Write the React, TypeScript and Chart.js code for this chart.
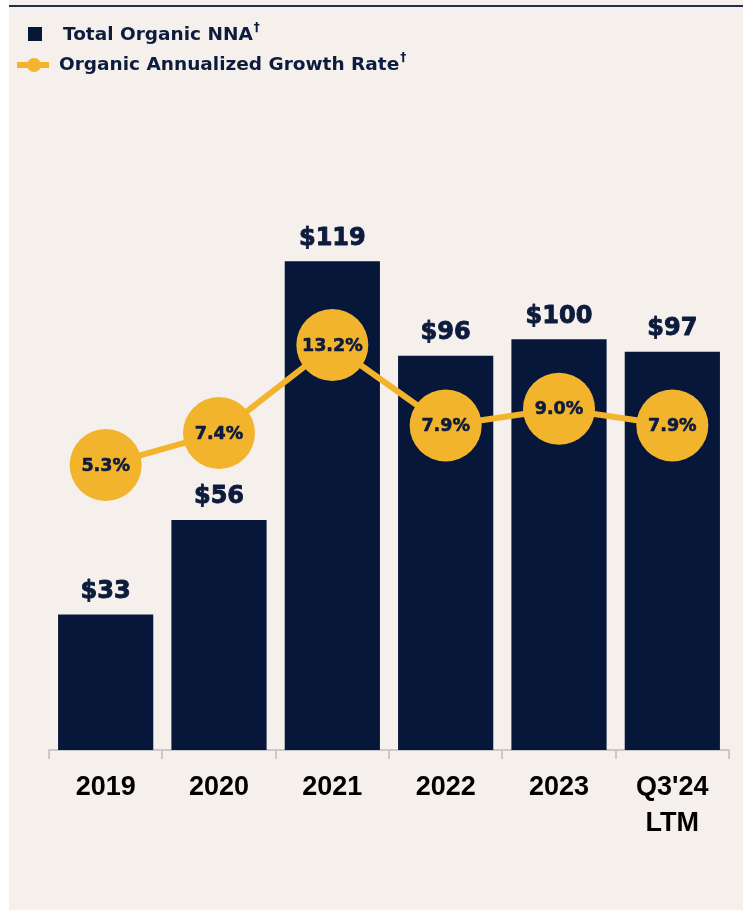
import React, { useEffect, useRef } from "react";
import { Chart, registerables } from "chart.js";

Chart.register(...registerables);

const categories: (string | string[])[] = ["2019", "2020", "2021", "2022", "2023", ["Q3'24", "LTM"]];
const nnaValues = [33, 56, 119, 96, 100, 97];
const growthRates = [5.3, 7.4, 13.2, 7.9, 9.0, 7.9];
const legendLabels = ["Total Organic NNA", "Organic Annualized Growth Rate"];

const NAVY = "#06173a";
const TEXT_NAVY = "#0d1b3d";
const GOLD = "#f2b42c";
const BG = "#f5f0ec";
const LABEL_FONT = "'DejaVu Sans'";

const labelPlugin = {
  id: "valueLabels",
  afterDatasetsDraw(chart: any) {
    const ctx = chart.ctx;
    ctx.save();
    ctx.fillStyle = TEXT_NAVY;
    ctx.strokeStyle = TEXT_NAVY;
    ctx.lineJoin = "round";
    ctx.textAlign = "center";
    ctx.textBaseline = "middle";
    const barMeta = chart.getDatasetMeta(0);
    ctx.font = "bold 24px " + LABEL_FONT;
    ctx.lineWidth = 0.9;
    barMeta.data.forEach((el: any, i: number) => {
      const t = "$" + nnaValues[i];
      ctx.fillText(t, el.x, el.y - 23);
      ctx.strokeText(t, el.x, el.y - 23);
    });
    const lineMeta = chart.getDatasetMeta(1);
    ctx.font = "bold 17.5px " + LABEL_FONT;
    ctx.lineWidth = 0.6;
    lineMeta.data.forEach((el: any, i: number) => {
      const t = growthRates[i].toFixed(1) + "%";
      ctx.fillText(t, el.x, el.y + 1);
      ctx.strokeText(t, el.x, el.y + 1);
    });
    ctx.restore();
  },
};

export default function App() {
  const ref = useRef<HTMLCanvasElement>(null);
  useEffect(() => {
    if (!ref.current) return;
    const chart = new Chart(ref.current, {
      type: "bar",
      data: {
        labels: categories as any,
        datasets: [
          {
            type: "bar",
            label: legendLabels[0],
            data: nnaValues,
            backgroundColor: NAVY,
            borderWidth: 0,
            barPercentage: 0.84,
            categoryPercentage: 1,
            yAxisID: "y",
            order: 1,
          } as any,
          {
            type: "line",
            label: legendLabels[1],
            data: growthRates,
            borderColor: GOLD,
            borderWidth: 6,
            pointRadius: 36,
            pointHoverRadius: 36,
            pointBackgroundColor: GOLD,
            pointBorderWidth: 0,
            tension: 0,
            yAxisID: "y1",
            order: 0,
            clip: false,
          } as any,
        ],
      },
      options: {
        animation: false,
        responsive: false,
        devicePixelRatio: 1,
        layout: { autoPadding: false, padding: { left: 49, right: 14, top: 134, bottom: 0 } },
        plugins: { legend: { display: false }, tooltip: { enabled: false } },
        scales: {
          x: {
            offset: true,
            grid: {
              drawOnChartArea: false,
              drawTicks: true,
              tickLength: 9,
              color: "#c9c9c9",
              lineWidth: 2,
            },
            border: { display: true, color: "#c9c9c9", width: 2 },
            ticks: {
              color: "#000000",
              padding: 11,
              font: { family: "Liberation Sans", weight: "bold", size: 27, lineHeight: 36 / 27 },
              maxRotation: 0,
              autoSkip: false,
            },
            afterFit: (s: any) => {
              s.height = 160;
              s.paddingLeft = 0;
              s.paddingRight = 0;
            },
          },
          y: { display: false, min: 0, max: 150 },
          y1: { display: false, min: -13.46, max: 27.09, position: "right" },
        },
      } as any,
      plugins: [labelPlugin],
    });
    return () => chart.destroy();
  }, []);

  const legendText: React.CSSProperties = {
    position: "absolute",
    fontFamily: "'DejaVu Sans'",
    fontWeight: 700,
    fontSize: 18.5,
    lineHeight: "19px",
    color: TEXT_NAVY,
    whiteSpace: "nowrap",
  };
  const sup: React.CSSProperties = {
    fontSize: 12,
    position: "relative",
    top: -9,
    marginLeft: 1,
  };

  return (
    <div style={{ position: "absolute", left: 0, top: 0, width: 743, height: 910, background: "#ffffff", overflow: "hidden" }}>
      <div style={{ position: "absolute", left: 9, top: 0, width: 734, height: 910, background: BG }} />
      <div style={{ position: "absolute", left: 9, top: 5, width: 734, height: 2, background: "#262d4a" }} />
      <canvas ref={ref} width={743} height={910} style={{ position: "absolute", left: 0, top: 0, width: 743, height: 910 }} />
      <div style={{ position: "absolute", left: 28, top: 27, width: 14, height: 14, background: NAVY }} />
      <div style={{ ...legendText, left: 63, top: 24 }}>
        {legendLabels[0]}
        <span style={sup}>†</span>
      </div>
      <div style={{ position: "absolute", left: 17, top: 62, width: 32, height: 6, background: GOLD }} />
      <div style={{ position: "absolute", left: 27, top: 58, width: 14, height: 14, borderRadius: 7, background: GOLD }} />
      <div style={{ ...legendText, left: 59, top: 54 }}>
        {legendLabels[1]}
        <span style={sup}>†</span>
      </div>
    </div>
  );
}
